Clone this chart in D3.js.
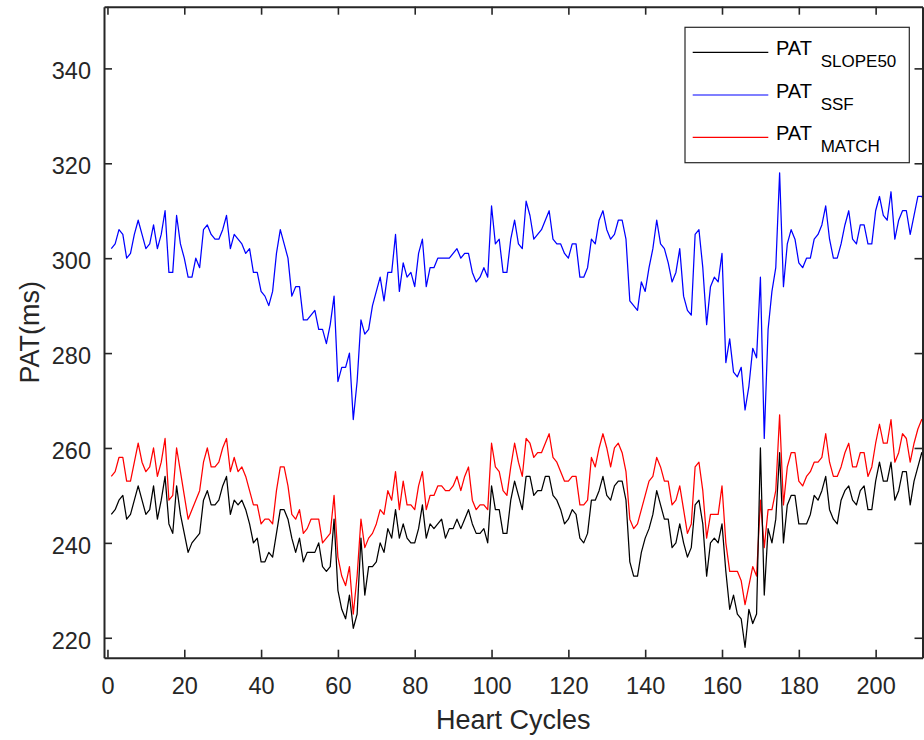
<!DOCTYPE html>
<html>
<head>
<meta charset="utf-8">
<script src="https://cdn.jsdelivr.net/npm/d3@7"></script>
<style>
  html, body { margin: 0; padding: 0; background: #fff; }
  svg { display: block; font-family: "Liberation Sans", Arial, Helvetica, sans-serif; }
</style>
</head>
<body>
<svg id="chart" width="924" height="740"></svg>
<script>
// ---- Data ----
const xTicks = [0, 20, 40, 60, 80, 100, 120, 140, 160, 180, 200];
const yTicks = [220, 240, 260, 280, 300, 320, 340];

const patSSF = [
  302,303,306,305,300,301,305,308,305,302,
  303,307,302,305,310,297,297,309,303,300,
  296,296,300,298,306,307,305,304,304,306,
  309,302,305,304,303,301,302,297,297,293,
  292,290,293,301,306,303,300,292,294,294,
  287,287,288,289,285,285,282,286,292,274,
  277,277,280,266,274,287,284,285,290,293,
  296,291,297,297,305,293,299,296,297,294,
  301,304,294,298,298,300,300,300,300,301,
  302,300,301,301,297,295,296,298,296,311,
  303,304,297,297,304,308,303,302,312,309,
  304,305,306,308,310,304,303,303,301,300,
  303,303,296,296,298,304,303,308,310,306,
  304,305,308,308,304,291,290,289,295,293,
  298,302,308,303,302,299,295,297,302,292,
  289,288,305,306,298,286,294,296,295,301,
  278,283,276,275,277,268,273,281,279,296,
  262,285,293,298,318,294,303,306,304,299,
  298,300,300,304,305,307,311,304,300,300,
  303,307,310,304,303,307,307,303,303,310,
  313,309,308,314,304,308,310,310,305,309,
  313,313,312
];

const patMATCH = [
  254,255,258,258,253,253,257,261,257,255,
  256,260,254,257,262,249,250,260,255,250,
  245,247,249,251,257,260,256,256,257,260,
  262,255,258,255,256,254,251,248,248,244,
  245,245,244,251,256,256,252,246,245,247,
  242,243,245,245,245,240,241,242,250,237,
  233,231,235,225,233,245,239,241,242,244,
  247,246,251,249,255,247,253,248,248,247,
  252,255,247,250,250,252,252,251,251,252,
  254,251,254,256,249,247,248,248,247,261,
  256,255,251,250,256,261,257,254,262,261,
  258,259,259,261,263,258,257,255,253,253,
  254,254,248,248,249,258,256,260,263,260,
  256,260,261,259,255,245,243,244,247,250,
  253,254,258,256,253,253,248,249,252,247,
  242,244,256,257,251,241,246,246,246,252,
  240,234,234,234,232,227,231,235,233,249,
  239,247,247,251,267,248,256,259,259,253,
  252,254,255,257,257,258,263,257,254,254,
  256,259,261,256,256,259,259,254,256,261,
  265,261,261,266,257,259,263,262,257,261,
  264,266,265
];

const patSLOPE50 = [
  246,247,249,250,245,246,249,252,249,246,
  247,252,245,249,254,244,242,252,246,242,
  238,240,241,242,249,251,248,248,249,252,
  254,246,249,248,249,247,244,240,241,236,
  236,238,237,242,247,247,245,241,238,241,
  236,238,238,238,240,235,234,235,245,230,
  226,224,229,222,225,241,229,235,235,236,
  240,238,243,241,247,241,244,241,240,240,
  243,248,241,244,243,244,245,241,243,243,
  245,243,245,247,244,242,242,243,240,252,
  247,247,242,242,249,253,250,247,254,254,
  250,251,251,254,254,250,249,247,244,245,
  247,246,241,240,242,249,249,251,254,250,
  249,252,253,253,249,236,233,233,238,241,
  243,246,251,248,245,245,239,240,244,240,
  237,239,248,249,244,233,240,241,240,244,
  234,226,229,225,224,218,226,223,225,260,
  229,243,240,245,259,240,248,250,250,244,
  244,244,246,250,249,251,254,247,245,244,
  249,251,252,249,248,251,252,247,247,253,
  257,253,253,257,249,251,255,255,248,253,
  256,259,257
];

const cycles = d3.range(1, patSSF.length + 1);

const seriesNames = ["SLOPE50", "SSF", "MATCH"];
const seriesColors = ["#000000", "#0000ff", "#ff0000"];
const seriesData = [patSLOPE50, patSSF, patMATCH];

// ---- Layout ----
const svg = d3.select("#chart");
const L = 104, R = 922.5, T = 6.7, B = 657.7;
const axisColor = "#262626";
const tickFont = 23.5;

const x = d3.scaleLinear().domain([-0.9, 212.2]).range([L, R]);
const y = d3.scaleLinear().domain([215.8, 353]).range([B, T]);

svg.append("defs").append("clipPath").attr("id", "plotclip")
  .append("rect").attr("x", L).attr("y", T).attr("width", R - L).attr("height", B - T);

// ---- Lines ----
const lineGen = d3.line().x((d, i) => x(cycles[i])).y(d => y(d));
const plot = svg.append("g").attr("clip-path", "url(#plotclip)");
[1, 2, 0].forEach(k => {
  plot.append("path")
    .datum(seriesData[k])
    .attr("fill", "none")
    .attr("stroke", seriesColors[k])
    .attr("stroke-width", 1.25)
    .attr("stroke-linejoin", "round")
    .attr("d", lineGen);
});

// ---- Axes ----
function styleAxis(g) {
  g.selectAll(".domain").attr("stroke", axisColor).attr("stroke-width", 2);
  g.selectAll(".tick line").attr("stroke", axisColor).attr("stroke-width", 1.6);
  g.selectAll(".tick text").attr("fill", axisColor).style("font-size", tickFont + "px");
}

const gx = svg.append("g").attr("transform", `translate(0,${B})`)
  .call(d3.axisBottom(x).tickValues(xTicks).tickSizeInner(-8).tickSizeOuter(0).tickPadding(19.6).tickFormat(d3.format("d")));
styleAxis(gx);

const gxt = svg.append("g").attr("transform", `translate(0,${T})`)
  .call(d3.axisTop(x).tickValues(xTicks).tickSizeInner(-8).tickSizeOuter(0).tickFormat(""));
styleAxis(gxt);

const gy = svg.append("g").attr("transform", `translate(${L},0)`)
  .call(d3.axisLeft(y).tickValues(yTicks).tickSizeInner(-8).tickSizeOuter(0).tickPadding(13).tickFormat(d3.format("d")));
styleAxis(gy);
gy.selectAll(".tick text").attr("dy", "0.44em");

const gyr = svg.append("g").attr("transform", `translate(${R},0)`)
  .call(d3.axisRight(y).tickValues(yTicks).tickSizeInner(-8).tickSizeOuter(0).tickFormat(""));
styleAxis(gyr);

// ---- Axis labels ----
svg.append("text")
  .attr("x", (L + R) / 2).attr("y", 729)
  .attr("text-anchor", "middle")
  .attr("fill", axisColor)
  .style("font-size", "27px")
  .text("Heart Cycles");

svg.append("text")
  .attr("transform", `translate(39,${(T + B) / 2}) rotate(-90)`)
  .attr("text-anchor", "middle")
  .attr("fill", axisColor)
  .style("font-size", "27px")
  .text("PAT(ms)");

// ---- Legend ----
const lg = svg.append("g");
lg.append("rect")
  .attr("x", 685).attr("y", 27.3).attr("width", 224.3).attr("height", 135.4)
  .attr("fill", "#fff").attr("stroke", axisColor).attr("stroke-width", 1.2);

const legendRows = [52.3, 95, 137.3];
seriesNames.forEach((name, k) => {
  const ly = legendRows[k];
  lg.append("line")
    .attr("x1", 692.7).attr("x2", 768.3).attr("y1", ly).attr("y2", ly)
    .attr("stroke", seriesColors[k]).attr("stroke-width", 1.2);
  const t = lg.append("text")
    .attr("x", 776).attr("y", ly + 3)
    .attr("fill", "#000")
    .style("font-size", "20px");
  t.append("tspan").text("PAT");
  t.append("tspan")
    .attr("x", 820.7).attr("dy", 11.5)
    .style("font-size", "17px")
    .text(name);
});
</script>
</body>
</html>
